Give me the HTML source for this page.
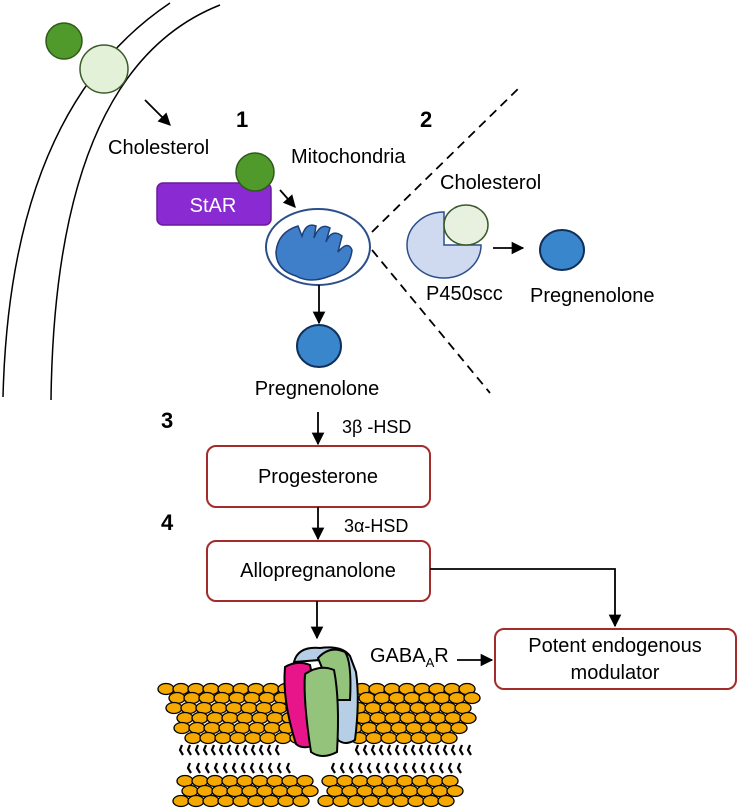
<!DOCTYPE html>
<html><head><meta charset="utf-8"><style>
html,body{margin:0;padding:0;background:#fff;}
svg{display:block;font-family:"Liberation Sans",sans-serif;}
</style></head><body>
<svg id="s" width="739" height="811" viewBox="0 0 739 811" xmlns="http://www.w3.org/2000/svg">
<defs>
<marker id="a" viewBox="0 0 10 10" refX="9" refY="5" markerWidth="7" markerHeight="7" orient="auto"><path d="M0,0 L10,5 L0,10 z" fill="#000"/></marker>
</defs>
<path d="M170,3 Q10,110 3,397" fill="none" stroke="#000" stroke-width="1.5"/>
<path d="M220,5 Q55,70 51,400" fill="none" stroke="#000" stroke-width="1.5"/>
<circle cx="64" cy="41" r="18" fill="#4f9a2a" stroke="#2f5a1a" stroke-width="1.5"/>
<circle cx="104" cy="69" r="24" fill="#e3f1d9" stroke="#3a5a2a" stroke-width="1.5"/>
<line x1="145" y1="100" x2="170" y2="125" stroke="#000" stroke-width="1.8" marker-end="url(#a)"/>
<text x="108" y="154" font-size="20">Cholesterol</text>
<text x="236" y="127" font-size="22" font-weight="bold">1</text>
<text x="420" y="127" font-size="22" font-weight="bold">2</text>
<rect x="157" y="183" width="114" height="42" rx="6" fill="#8a2ad2" stroke="#6a1a9a" stroke-width="1.5"/>
<text x="213" y="212" font-size="20" fill="#fff" text-anchor="middle">StAR</text>
<circle cx="255" cy="172" r="19" fill="#4f9a2a" stroke="#2f5a1a" stroke-width="1.5"/>
<text x="291" y="163" font-size="20">Mitochondria</text>
<line x1="280" y1="190" x2="295" y2="207" stroke="#000" stroke-width="1.8" marker-end="url(#a)"/>
<ellipse cx="318" cy="247" rx="52" ry="38" fill="#fff" stroke="#2c4f8a" stroke-width="2"/>
<path d="M276,252 Q278,232 298,226 L302,236 Q306,222 316,226 L314,238 Q320,222 330,228 L326,242 Q332,228 342,236 L338,252 Q348,240 352,250 Q350,270 330,276 Q310,284 296,276 Q276,270 276,252 Z" fill="#3f7fc9" stroke="#1f3f7a" stroke-width="1.5"/>
<line x1="319" y1="285" x2="319" y2="323" stroke="#000" stroke-width="1.8" marker-end="url(#a)"/>
<ellipse cx="319" cy="346" rx="22" ry="21" fill="#3a86cc" stroke="#10305a" stroke-width="2"/>
<text x="317" y="395" font-size="20" text-anchor="middle">Pregnenolone</text>
<line x1="372" y1="232" x2="522" y2="85" stroke="#000" stroke-width="1.8" stroke-dasharray="9,6"/>
<line x1="372" y1="250" x2="490" y2="393" stroke="#000" stroke-width="1.8" stroke-dasharray="9,6"/>
<text x="440" y="189" font-size="20">Cholesterol</text>
<path d="M444,245 L444,212 A37,33 0 1,0 481,245 Z" fill="#cfdaf0" stroke="#2c4f8a" stroke-width="1.5"/>
<ellipse cx="466" cy="225" rx="22" ry="20" fill="#e8f1e0" stroke="#3a5a2a" stroke-width="1.5"/>
<text x="426" y="300" font-size="20">P450scc</text>
<line x1="493" y1="248" x2="523" y2="248" stroke="#000" stroke-width="1.8" marker-end="url(#a)"/>
<ellipse cx="562" cy="250" rx="22" ry="20" fill="#3a86cc" stroke="#10305a" stroke-width="2"/>
<text x="530" y="302" font-size="20">Pregnenolone</text>
<text x="161" y="428" font-size="22" font-weight="bold">3</text>
<line x1="318" y1="412" x2="318" y2="444" stroke="#000" stroke-width="1.8" marker-end="url(#a)"/>
<text x="342" y="433" font-size="18">3β -HSD</text>
<rect x="207" y="446" width="223" height="61" rx="9" fill="#fff" stroke="#a52a2a" stroke-width="2"/>
<text x="318" y="483" font-size="20" text-anchor="middle">Progesterone</text>
<text x="161" y="530" font-size="22" font-weight="bold">4</text>
<line x1="318" y1="507" x2="318" y2="539" stroke="#000" stroke-width="1.8" marker-end="url(#a)"/>
<text x="344" y="532" font-size="18">3α-HSD</text>
<rect x="207" y="541" width="223" height="60" rx="9" fill="#fff" stroke="#a52a2a" stroke-width="2"/>
<text x="318" y="577" font-size="20" text-anchor="middle">Allopregnanolone</text>
<polyline points="430,569 615,569 615,626" fill="none" stroke="#000" stroke-width="1.8" marker-end="url(#a)"/>
<line x1="317" y1="601" x2="317" y2="638" stroke="#000" stroke-width="1.8" marker-end="url(#a)"/>
<rect x="495" y="629" width="241" height="60" rx="9" fill="#fff" stroke="#a52a2a" stroke-width="2"/>
<text x="615" y="652" font-size="20" text-anchor="middle">Potent endogenous</text>
<text x="615" y="679" font-size="20" text-anchor="middle">modulator</text>
<text x="370" y="662" font-size="20">GABA<tspan font-size="13" dy="5">A</tspan><tspan dy="-5">R</tspan></text>
<line x1="457" y1="660" x2="492" y2="660" stroke="#000" stroke-width="1.8" marker-end="url(#a)"/>
<g id="mem"></g>
<g stroke="#000" stroke-width="2">
<path d="M294,662 Q298,646 320,648 Q342,645 350,656 L356,672 Q360,700 355,740 Q345,746 338,740 L320,660 Z" fill="#b6cfe6"/>
<path d="M318,658 Q330,645 345,652 Q352,662 350,700 L335,700 Z" fill="#94c47c"/>
<path d="M285,667 Q297,660 310,665 Q318,700 314,745 Q303,750 296,744 Q282,700 285,667 Z" fill="#e8158a"/>
<path d="M305,674 Q320,664 334,670 Q340,700 337,752 Q322,760 311,752 Q303,700 305,674 Z" fill="#94c47c"/>
</g>
</svg>
<script>
(function(){
var g=document.getElementById('mem'),h='';
function e(x,y){h+='<ellipse cx="'+x+'" cy="'+y+'" rx="8" ry="5.5" fill="#f5a800" stroke="#000" stroke-width="1.3"/>';}
function t(x,y){h+='<path d="M'+x+','+y+' l-2,5 l3,5" fill="none" stroke="#000" stroke-width="2.2"/>';}
var up=[689,698,708,718,728,738];
for(var r=0;r<6;r++){var y=up[r],off=(r%2)*7;
 for(var x=166+r*4+off;x<=300;x+=15)e(x,y);
 for(x=362-r*2+off;x<=478-r*3;x+=15)e(x,y);}
for(x=182;x<=472;x+=8){if(x>284&&x<356)continue;t(x,745);}
for(x=190;x<=462;x+=9){if(x>296&&x<332)continue;t(x,763);}
var lo=[781,791,801];
for(r=0;r<3;r++){var y=lo[r],off=(r%2)*7;
 for(x=185-r*2+off;x<=312;x+=15)e(x,y);
 for(x=330-r*2+off;x<=456;x+=15)e(x,y);}
g.innerHTML=h;})();
</script>
</body></html>
